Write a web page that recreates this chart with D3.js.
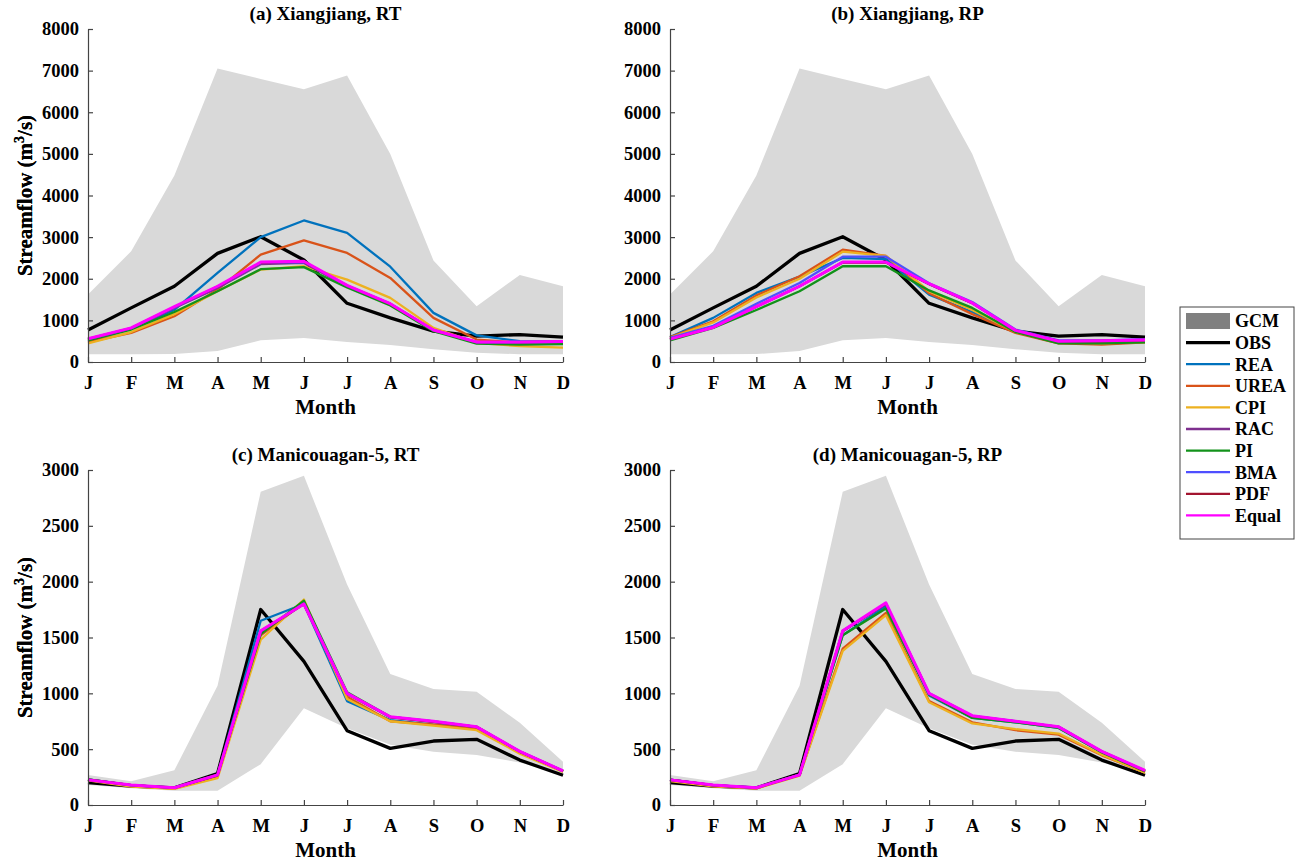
<!DOCTYPE html>
<html>
<head>
<meta charset="utf-8">
<script src="https://d3js.org/d3.v7.min.js"></script>
<style>
  body { margin: 0; background: #fff; }
  text { font-family: "Liberation Serif", "Times New Roman", serif; font-weight: bold; fill: #000; }
</style>
</head>
<body>
<div id="chart"></div>
<script>
// month ticks
var months = ["J","F","M","A","M","J","J","A","S","O","N","D"];
var seriesNames = ["REA","UREA","CPI","RAC","PI","BMA","PDF","Equal"];
var seriesColors = ["#0072BD","#D95319","#EDB120","#7E2F8E","#12921A","#4F4FFF","#A2142F","#FF00FF"];

// GCM envelope + observations, Xiangjiang
var xjUpper = [1620,2660,4480,7050,6800,6550,6880,5000,2440,1340,2090,1820];
var xjLower = [185,185,190,265,520,576,480,410,305,225,185,185];
var xjObs   = [770,1300,1820,2610,3010,2450,1410,1060,740,620,660,600];

// Manicouagan-5
var mcUpper = [268,213,311,1068,2805,2948,1975,1173,1038,1014,737,387];
var mcLower = [180,150,127,127,366,867,687,540,477,447,380,275];
var mcObs   = [200,170,153,282,1751,1286,665,507,573,588,402,267];

// (a) Xiangjiang, RT
var xjRT = {
  REA:   [500,800,1250,2140,3000,3400,3100,2290,1180,640,500,490],
  UREA:  [480,700,1100,1740,2580,2920,2620,2020,1060,540,465,465],
  CPI:   [450,720,1150,1700,2220,2300,1980,1540,820,460,380,345],
  RAC:   [540,800,1300,1780,2350,2380,1820,1390,760,470,470,480],
  PI:    [520,780,1200,1700,2230,2280,1790,1360,740,440,420,430],
  BMA:   [550,810,1310,1800,2380,2400,1830,1400,765,475,475,485],
  PDF:   [555,815,1320,1810,2390,2410,1835,1395,768,478,478,488],
  Equal: [560,820,1330,1820,2400,2420,1840,1400,770,480,480,490]
};
// (b) Xiangjiang, RP
var xjRP = {
  REA:   [600,1060,1660,2050,2500,2470,1620,1200,740,480,480,500],
  UREA:  [600,980,1600,2060,2700,2550,1650,1150,700,450,420,470],
  CPI:   [580,950,1550,2000,2650,2550,1700,1250,720,470,450,480],
  RAC:   [550,830,1330,1820,2400,2400,1870,1410,760,500,500,525],
  PI:    [520,820,1250,1700,2300,2300,1720,1300,720,450,450,470],
  BMA:   [580,870,1400,1900,2530,2530,1890,1440,780,520,520,550],
  PDF:   [550,830,1330,1820,2390,2390,1875,1415,760,500,505,528],
  Equal: [550,830,1330,1820,2400,2400,1880,1420,760,500,510,530]
};
// (c) Manicouagan-5, RT
var mcRT = {
  REA:   [230,175,155,270,1650,1800,930,760,720,690,470,300],
  UREA:  [225,170,150,255,1520,1810,970,750,720,680,470,300],
  CPI:   [220,165,145,240,1480,1840,950,750,710,670,460,295],
  RAC:   [230,178,153,265,1550,1800,995,785,745,698,478,305],
  PI:    [230,178,155,270,1530,1830,1010,790,748,700,478,305],
  BMA:   [228,176,154,268,1555,1805,1000,790,748,700,480,306],
  PDF:   [226,178,153,268,1558,1800,998,788,745,700,478,305],
  Equal: [225,180,155,270,1560,1800,1000,790,750,700,480,306]
};
// (d) Manicouagan-5, RP
var mcRP = {
  REA:   [228,176,155,270,1520,1780,980,780,740,690,475,305],
  UREA:  [220,170,150,265,1400,1720,930,740,670,630,445,290],
  CPI:   [215,168,148,262,1380,1700,920,730,680,640,450,290],
  RAC:   [228,178,155,270,1555,1800,995,795,748,700,478,306],
  PI:    [225,176,154,272,1520,1760,990,780,740,690,470,300],
  BMA:   [228,178,155,270,1560,1805,1000,798,750,700,480,307],
  PDF:   [226,177,154,270,1558,1803,998,796,748,699,479,306],
  Equal: [225,180,155,270,1560,1810,1000,800,750,700,480,310]
};

var xjTicks = [0,1000,2000,3000,4000,5000,6000,7000,8000];
var mcTicks = [0,500,1000,1500,2000,2500,3000];

var panels = [
  {title: "(a) Xiangjiang, RT", left: 88, top: 29, bottom: 362, ymax: 8000, ticks: xjTicks, up: xjUpper, lo: xjLower, obs: xjObs, sims: xjRT},
  {title: "(b) Xiangjiang, RP", left: 670, top: 29, bottom: 362, ymax: 8000, ticks: xjTicks, up: xjUpper, lo: xjLower, obs: xjObs, sims: xjRP},
  {title: "(c) Manicouagan-5, RT", left: 88, top: 470, bottom: 805, ymax: 3000, ticks: mcTicks, up: mcUpper, lo: mcLower, obs: mcObs, sims: mcRT},
  {title: "(d) Manicouagan-5, RP", left: 670, top: 470, bottom: 805, ymax: 3000, ticks: mcTicks, up: mcUpper, lo: mcLower, obs: mcObs, sims: mcRP}
];
var plotW = 475;

var svg = d3.select("#chart").append("svg")
  .attr("width", 1296).attr("height", 863);

panels.forEach(function(p) {
  var h = p.bottom - p.top;
  var g = svg.append("g").attr("transform", "translate(" + p.left + "," + p.top + ")");

  var x = d3.scaleLinear().domain([0, 11]).range([0, plotW]);
  var y = d3.scaleLinear().domain([0, p.ymax]).range([h, 0]);

  // GCM envelope
  var area = d3.area()
    .x(function(d, i) { return x(i); })
    .y0(function(d, i) { return y(p.lo[i]); })
    .y1(function(d) { return y(d); });
  g.append("path").datum(p.up)
    .attr("d", area)
    .attr("fill", "#d9d9d9");

  var line = d3.line()
    .x(function(d, i) { return x(i); })
    .y(function(d) { return y(d); });

  g.append("path").datum(p.obs)
    .attr("d", line)
    .attr("fill", "none")
    .attr("stroke", "#000")
    .attr("stroke-width", 3.3)
    .attr("stroke-linejoin", "round");

  seriesNames.forEach(function(name, k) {
    g.append("path").datum(p.sims[name])
      .attr("d", line)
      .attr("fill", "none")
      .attr("stroke", seriesColors[k])
      .attr("stroke-width", name == "Equal" ? 3 : 2.3)
      .attr("stroke-linejoin", "round");
  });

  // axes, ticks pointing inward
  var xAxis = g.append("g")
    .attr("transform", "translate(0," + h + ")")
    .call(d3.axisBottom(x).tickValues(d3.range(12))
      .tickFormat(function(i) { return months[i]; })
      .tickSizeInner(-5).tickSizeOuter(0).tickPadding(14));
  var yAxis = g.append("g")
    .call(d3.axisLeft(y).tickValues(p.ticks)
      .tickFormat(d3.format("d"))
      .tickSizeInner(-5).tickSizeOuter(0).tickPadding(9));

  [xAxis, yAxis].forEach(function(a) {
    a.selectAll("path, line").attr("stroke", "#444").attr("stroke-width", 1.2);
    a.selectAll("text")
      .attr("fill", "#000")
      .style("font-family", "Liberation Serif")
      .style("font-weight", "bold")
      .style("font-size", "18.5px");
  });

  g.append("text")
    .attr("x", plotW / 2).attr("y", -9)
    .attr("text-anchor", "middle")
    .style("font-size", "19px")
    .text(p.title);

  g.append("text")
    .attr("x", plotW / 2).attr("y", h + 52)
    .attr("text-anchor", "middle")
    .style("font-size", "21px")
    .text("Month");

  var yl = g.append("text")
    .attr("transform", "translate(" + (-p.left + 32) + "," + (h / 2) + ") rotate(-90)")
    .attr("text-anchor", "middle")
    .style("font-size", "21px");
  yl.append("tspan").text("Streamflow (m");
  yl.append("tspan").attr("dy", -8).style("font-size", "14px").text("3");
  yl.append("tspan").attr("dy", 8).text("/s)");
});

// legend
var legendNames = ["GCM","OBS"].concat(seriesNames);
var legendColors = ["#808080","#000"].concat(seriesColors);
var leg = svg.append("g").attr("transform", "translate(1180,307)");
leg.append("rect")
  .attr("width", 114).attr("height", 232)
  .attr("fill", "#fff").attr("stroke", "#444").attr("stroke-width", 1);

legendNames.forEach(function(name, i) {
  var cy = 14 + i * 21.6;
  if (name == "GCM") {
    leg.append("rect")
      .attr("x", 6).attr("y", cy - 8)
      .attr("width", 44).attr("height", 16)
      .attr("fill", legendColors[i]);
  } else {
    leg.append("line")
      .attr("x1", 6).attr("x2", 50)
      .attr("y1", cy).attr("y2", cy)
      .attr("stroke", legendColors[i])
      .attr("stroke-width", name == "OBS" ? 3.3 : 2.3);
  }
  leg.append("text")
    .attr("x", 55).attr("y", cy)
    .attr("dy", "0.35em")
    .style("font-size", "18px")
    .text(name);
});
</script>
</body>
</html>
